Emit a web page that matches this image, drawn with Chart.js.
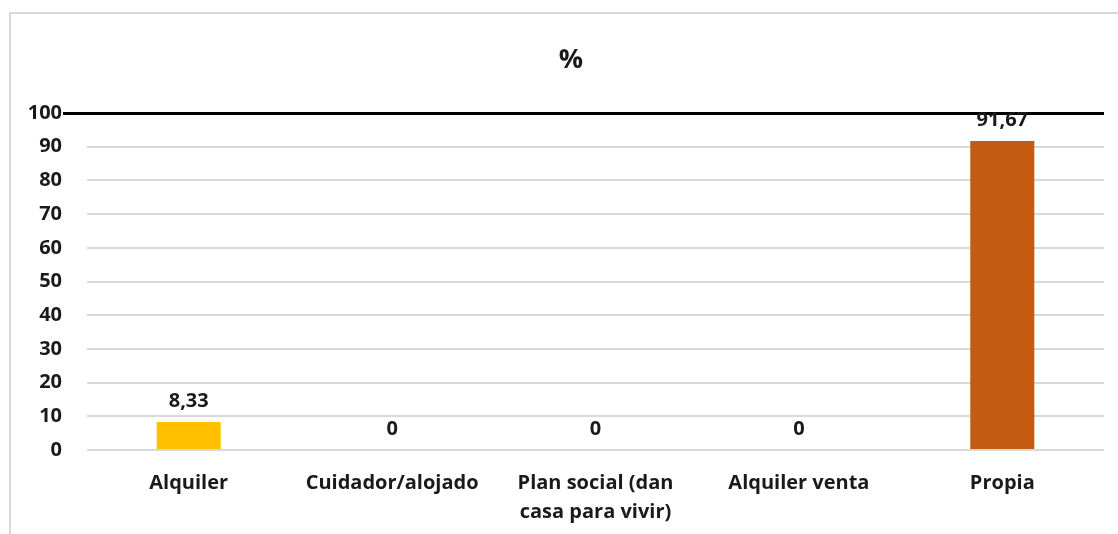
<!DOCTYPE html>
<html>
<head>
<meta charset="utf-8">
<script src="https://cdn.jsdelivr.net/npm/chart.js@4/dist/chart.umd.min.js"></script>
<style>
  html, body { margin: 0; padding: 0; background: #ffffff; }
  #wrap { position: relative; width: 1118px; height: 534px; }
</style>
</head>
<body>
<div id="wrap"><canvas id="chart" width="1118" height="534"></canvas></div>
<script>
// Tenencia de la vivienda (%)
const titleText = '%';
const categories = [
  'Alquiler',
  'Cuidador/alojado',
  ['Plan social (dan', 'casa para vivir)'],
  'Alquiler venta',
  'Propia'
];
const values = [8.33, 0, 0, 0, 91.67];
const valueLabels = ['8,33', '0', '0', '0', '91,67'];
const barColors = ['#FFC000', '#A5A5A5', '#5B9BD5', '#4472C4', '#C55A11'];
const yTicks = [0, 10, 20, 30, 40, 50, 60, 70, 80, 90, 100];

const FONT = '"Open Sans", Lato, "DejaVu Sans", sans-serif';
const TEXT = '#1a1a1a';

// white background, light frame and the heading
const framePlugin = {
  id: 'frame',
  beforeDraw(chart) {
    const c = chart.ctx;
    c.save();
    c.fillStyle = '#ffffff';
    c.fillRect(0, 0, chart.width, chart.height);
    c.strokeStyle = '#d9d9d9';
    c.lineWidth = 2;
    c.strokeRect(10, 13, chart.width + 20, chart.height + 20);
    c.font = 'bold 27px ' + FONT;
    c.fillStyle = TEXT;
    c.textAlign = 'center';
    c.textBaseline = 'middle';
    c.fillText(titleText, 571, 60);
    c.restore();
  }
};

// value labels above each bar
const valueLabelPlugin = {
  id: 'valueLabels',
  afterDatasetsDraw(chart) {
    const c = chart.ctx;
    const meta = chart.getDatasetMeta(0);
    c.save();
    c.font = 'bold 20px ' + FONT;
    c.fillStyle = TEXT;
    c.textAlign = 'center';
    c.textBaseline = 'middle';
    meta.data.forEach((bar, i) => {
      c.fillText(valueLabels[i], bar.x, bar.y - 21);
    });
    c.restore();
  }
};

new Chart(document.getElementById('chart'), {
  type: 'bar',
  data: {
    labels: categories,
    datasets: [{
      data: values,
      backgroundColor: barColors,
      borderWidth: 0,
      categoryPercentage: 1,
      barPercentage: 0.315
    }]
  },
  options: {
    responsive: false,
    animation: false,
    layout: { padding: { left: 10, right: 14, top: 113, bottom: 0 } },
    plugins: {
      legend: { display: false },
      tooltip: { enabled: false },
      title: { display: false }
    },
    scales: {
      x: {
        grid: { display: false, drawTicks: false },
        border: { display: false },
        ticks: {
          color: TEXT,
          font: { family: FONT, size: 20, weight: 'bold', lineHeight: 1.43 },
          padding: 19,
          maxRotation: 0,
          autoSkip: false
        },
        afterFit(scale) { scale.height = 84; }
      },
      y: {
        min: 0,
        max: 100,
        afterBuildTicks(scale) { scale.ticks = yTicks.map(v => ({ value: v })); },
        border: { display: false },
        grid: {
          color: ctx => (ctx.tick && ctx.tick.value === 100) ? '#000000' : '#d9d9d9',
          lineWidth: ctx => (ctx.tick && ctx.tick.value === 100) ? 3 : 2,
          tickColor: ctx => (ctx.tick && ctx.tick.value === 100) ? '#000000' : 'rgba(0,0,0,0)',
          tickLength: 24,
          drawTicks: true
        },
        ticks: {
          color: TEXT,
          font: { family: FONT, size: 20, weight: 'bold' },
          padding: 1
        },
        afterFit(scale) { scale.width = 77; }
      }
    }
  },
  plugins: [framePlugin, valueLabelPlugin]
});
</script>
</body>
</html>
